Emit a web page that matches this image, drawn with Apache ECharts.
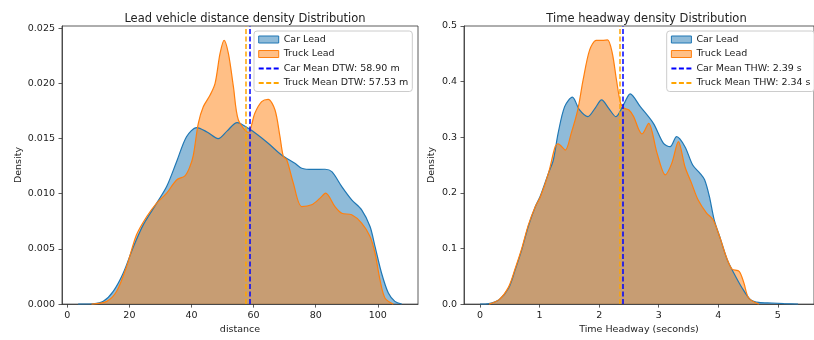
<!DOCTYPE html>
<html>
<head>
<meta charset="utf-8">
<script src="https://cdn.jsdelivr.net/npm/echarts@6/dist/echarts.min.js"></script>
<style>
  html, body { margin: 0; padding: 0; background: #fff; }
  #main { width: 814px; height: 340px; }
</style>
</head>
<body>
<div id="main"></div>
<script>
// --- distance KDE (left panel) ---
const carDistX = [3.5, 8.4, 11.6, 14.8, 18.0, 21.3, 24.5, 28.8, 32.0, 35.2, 38.4, 41.7, 45.0, 48.6, 51.5, 54.7, 58.3, 61.5, 64.7, 69.0, 73.3, 75.5, 79.0, 83.0, 85.2, 88.4, 91.6, 94.8, 97.5, 99.1, 101.2, 103.4, 105.5, 107.7];
const carDistY = [0, 0.00003, 0.00025, 0.00116, 0.0028, 0.0052, 0.0072, 0.00915, 0.01065, 0.0129, 0.01517, 0.0160, 0.0156, 0.0150, 0.0157, 0.01645, 0.01593, 0.0153, 0.01457, 0.01351, 0.01276, 0.01231, 0.0122, 0.01222, 0.0120, 0.01065, 0.00945, 0.00854, 0.00703, 0.00523, 0.00282, 0.001, 0.00025, 0];
const truckDistX = [7.8, 12.7, 15.9, 19.1, 22.3, 25.6, 28.8, 32.0, 35.2, 37.9, 39.5, 40.6, 42.2, 43.8, 46.0, 47.6, 49.2, 50.5, 51.9, 53.5, 55.1, 58.3, 60.4, 62.6, 64.7, 66.9, 68.5, 69.6, 70.7, 72.8, 75.5, 78.7, 81.4, 83.2, 86.2, 88.4, 91.6, 94.8, 97.5, 99.1, 100.7, 102.3, 105.0];
const truckDistY = [0, 0.00025, 0.00116, 0.0034, 0.00628, 0.00794, 0.00915, 0.01005, 0.01125, 0.01162, 0.01246, 0.0135, 0.01638, 0.01788, 0.01894, 0.0200, 0.02271, 0.0239, 0.0227, 0.0197, 0.01668, 0.01555, 0.01729, 0.01834, 0.01855, 0.01759, 0.01517, 0.01336, 0.01306, 0.01096, 0.00884, 0.009, 0.0096, 0.01005, 0.00884, 0.00824, 0.00809, 0.00734, 0.00613, 0.00463, 0.00221, 0.00056, 0];
const carMeanDist = 58.90;
const truckMeanDist = 57.53;

// --- time headway KDE (right panel) ---
const carThwX = [0, 0.15, 0.32, 0.48, 0.59, 0.70, 0.81, 0.93, 1.01, 1.15, 1.23, 1.31, 1.42, 1.55, 1.67, 1.81, 1.93, 2.04, 2.16, 2.28, 2.42, 2.52, 2.69, 2.91, 3.08, 3.19, 3.30, 3.44, 3.57, 3.69, 3.77, 3.85, 3.93, 4.04, 4.15, 4.26, 4.40, 4.54, 4.68, 4.9, 5.1, 5.34];
const carThwY = [0, 0.001, 0.008, 0.029, 0.062, 0.098, 0.14, 0.176, 0.194, 0.236, 0.259, 0.307, 0.355, 0.372, 0.349, 0.337, 0.352, 0.367, 0.352, 0.337, 0.361, 0.378, 0.355, 0.325, 0.289, 0.283, 0.301, 0.283, 0.25, 0.2355, 0.2235, 0.1935, 0.152, 0.116, 0.08, 0.056, 0.029, 0.008, 0.003, 0.002, 0.001, 0];
const truckThwX = [0.15, 0.32, 0.48, 0.59, 0.70, 0.81, 0.93, 1.01, 1.15, 1.26, 1.31, 1.43, 1.53, 1.64, 1.73, 1.84, 1.95, 2.05, 2.14, 2.22, 2.29, 2.36, 2.42, 2.50, 2.58, 2.66, 2.72, 2.83, 2.97, 3.11, 3.22, 3.33, 3.44, 3.55, 3.66, 3.80, 3.91, 4.02, 4.13, 4.23, 4.35, 4.43, 4.51, 4.68];
const truckThwY = [0, 0.008, 0.031, 0.064, 0.10, 0.142, 0.176, 0.192, 0.236, 0.283, 0.288, 0.277, 0.307, 0.349, 0.403, 0.457, 0.474, 0.474, 0.475, 0.451, 0.403, 0.361, 0.352, 0.349, 0.337, 0.315, 0.306, 0.325, 0.272, 0.2325, 0.2535, 0.292, 0.247, 0.2175, 0.1875, 0.164, 0.152, 0.122, 0.086, 0.063, 0.059, 0.038, 0.011, 0];
const carMeanThw = 2.39;
const truckMeanThw = 2.34;

// tick labels
const distTicks = [0, 20, 40, 60, 80, 100];
const distDensTicks = [0, 0.005, 0.010, 0.015, 0.020, 0.025];
const thwTicks = [0, 1, 2, 3, 4, 5];
const thwDensTicks = [0, 0.1, 0.2, 0.3, 0.4, 0.5];

const FONT = 'DejaVu Sans';
const BLUE = '#1f77b4', ORANGE = '#ff7f0e';
const BLUE_FILL = 'rgba(31,119,180,0.5)', ORANGE_FILL = 'rgba(255,127,14,0.5)';
const DASH = [5, 2.5];

function zip(xs, ys) { return xs.map((x, i) => [x, ys[i]]); }

const carDistName = 'Car Mean DTW: ' + carMeanDist.toFixed(2) + ' m';
const truckDistName = 'Truck Mean DTW: ' + truckMeanDist.toFixed(2) + ' m';
const carThwName = 'Car Mean THW: ' + carMeanThw.toFixed(2) + ' s';
const truckThwName = 'Truck Mean THW: ' + truckMeanThw.toFixed(2) + ' s';

function kde(name, data, idx, color, fill) {
  return {
    name: name, type: 'line', xAxisIndex: idx, yAxisIndex: idx,
    data: data, smooth: 0.3, symbol: 'none',
    lineStyle: { color: color, width: 1.2 },
    itemStyle: { color: color },
    areaStyle: { color: fill, opacity: 1 }
  };
}
function meanLine(name, value, idx, color) {
  return {
    name: name, type: 'line', xAxisIndex: idx, yAxisIndex: idx,
    data: [], symbol: 'none',
    lineStyle: { color: color, width: 1.5, type: DASH },
    itemStyle: { color: color },
    markLine: {
      silent: true, symbol: 'none', label: { show: false },
      lineStyle: { color: color, width: 1.5, type: DASH },
      data: [{ xAxis: value }]
    }
  };
}
function legendFor(left, names) {
  return {
    left: left, top: 31, orient: 'vertical',
    itemWidth: 20, itemHeight: 7, itemGap: 2.5,
    padding: [2.5, 4, 2.5, 3.7],
    borderColor: '#cccccc', borderWidth: 1, borderRadius: 3,
    backgroundColor: 'rgba(255,255,255,0.8)',
    selectedMode: false,
    textStyle: { fontFamily: FONT, fontSize: 9.5, color: '#222', lineHeight: 12 },
    data: [
      { name: 'Car Lead', icon: 'rect', itemStyle: { color: BLUE_FILL, borderColor: BLUE, borderWidth: 1 } },
      { name: 'Truck Lead', icon: 'rect', itemStyle: { color: ORANGE_FILL, borderColor: ORANGE, borderWidth: 1 } },
      { name: names[0], itemStyle: { opacity: 0 } },
      { name: names[1], itemStyle: { opacity: 0 } }
    ]
  };
}
const AXIS_LINE = { show: true, onZero: false, lineStyle: { color: '#333', width: 0.8 } };
function xAxisFor(idx, min, max, ticks, name, fmt) {
  return {
    type: 'value', gridIndex: idx, min: min, max: max,
    name: name, nameLocation: 'middle', nameGap: 18,
    nameTextStyle: { fontFamily: FONT, fontSize: 9.5, color: '#222' },
    axisLine: AXIS_LINE,
    axisTick: { show: true, length: 3.5, customValues: ticks, lineStyle: { color: '#333', width: 0.8 } },
    axisLabel: { customValues: ticks, margin: 6, fontFamily: FONT, fontSize: 9.5, color: '#222', formatter: fmt },
    splitLine: { show: false }
  };
}
function yAxisFor(idx, max, ticks, gap, fmt) {
  return {
    type: 'value', gridIndex: idx, min: 0, max: max,
    name: 'Density', nameLocation: 'middle', nameGap: gap, nameRotate: 90,
    nameTextStyle: { fontFamily: FONT, fontSize: 9.5, color: '#222' },
    axisLine: AXIS_LINE,
    axisTick: { show: true, length: 3.5, customValues: ticks, lineStyle: { color: '#333', width: 0.8 } },
    axisLabel: { customValues: ticks, margin: 7, fontFamily: FONT, fontSize: 9.5, color: '#222', formatter: fmt },
    splitLine: { show: false }
  };
}

const chart = echarts.init(document.getElementById('main'), null, { renderer: 'canvas' });
chart.setOption({
  animation: false,
  backgroundColor: '#fff',
  title: [
    { text: 'Lead vehicle distance density Distribution', left: 240, top: 8, textAlign: 'center',
      textStyle: { fontFamily: FONT, fontSize: 11.5, fontWeight: 'normal', color: '#222' } },
    { text: 'Time headway density Distribution', left: 641.5, top: 8, textAlign: 'center',
      textStyle: { fontFamily: FONT, fontSize: 11.5, fontWeight: 'normal', color: '#222' } }
  ],
  grid: [
    { left: 62, top: 26, width: 356, height: 278.5, show: true, borderColor: '#333', borderWidth: 0.8, backgroundColor: 'transparent' },
    { left: 464, top: 26, width: 355, height: 278.5, show: true, borderColor: '#333', borderWidth: 0.8, backgroundColor: 'transparent' }
  ],
  legend: [legendFor(254, [carDistName, truckDistName]), legendFor(666.7, [carThwName, truckThwName])],
  xAxis: [
    xAxisFor(0, -1.7, 112.95, distTicks, 'distance', v => String(v)),
    xAxisFor(1, -0.27, 5.607, thwTicks, 'Time Headway (seconds)', v => String(v))
  ],
  yAxis: [
    yAxisFor(0, 0.0252, distDensTicks, 36, v => v.toFixed(3)),
    yAxisFor(1, 0.5, thwDensTicks, 27, v => v.toFixed(1))
  ],
  series: [
    kde('Car Lead', zip(carDistX, carDistY), 0, BLUE, BLUE_FILL),
    kde('Truck Lead', zip(truckDistX, truckDistY), 0, ORANGE, ORANGE_FILL),
    meanLine(carDistName, carMeanDist, 0, 'blue'),
    meanLine(truckDistName, truckMeanDist, 0, 'orange'),
    kde('Car Lead', zip(carThwX, carThwY), 1, BLUE, BLUE_FILL),
    kde('Truck Lead', zip(truckThwX, truckThwY), 1, ORANGE, ORANGE_FILL),
    meanLine(carThwName, carMeanThw, 1, 'blue'),
    meanLine(truckThwName, truckMeanThw, 1, 'orange')
  ]
});
</script>
</body>
</html>
